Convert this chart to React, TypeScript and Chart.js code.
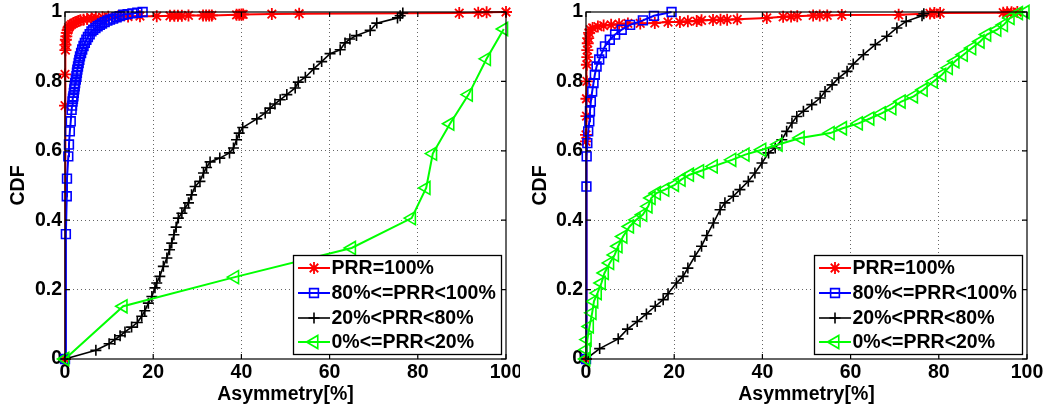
import React, { useEffect, useRef } from 'react';
import { Chart, registerables } from 'chart.js';
import { drawPoint } from 'chart.js/helpers';

Chart.register(...registerables);

// ---------- axis / text data ----------
const X_TICKS = [0, 20, 40, 60, 80, 100];
const Y_TICKS = [0, 0.2, 0.4, 0.6, 0.8, 1];
const X_TITLE = 'Asymmetry[%]';
const Y_TITLE = 'CDF';
const SERIES_LABELS = ['PRR=100%', '80%<=PRR<100%', '20%<PRR<80%', '0%<=PRR<20%'];

// ---------- left panel series ([asymmetry %, CDF]) ----------
const LEFT_PRR100: number[][] = [
  [0, 0], [0, 0.73], [0, 0.82], [0.1, 0.89], [0.1, 0.905], [0.2, 0.92], [0.3, 0.93], [0.4, 0.94],
  [0.6, 0.948], [0.8, 0.955], [1.1, 0.96], [1.5, 0.964], [2, 0.968], [2.5, 0.971], [3, 0.974],
  [3.5, 0.976], [4.2, 0.978], [5, 0.98], [6, 0.982], [7, 0.984], [8.5, 0.985], [9.8, 0.986],
  [12, 0.987], [14.3, 0.987], [17, 0.988], [20.8, 0.988], [23.8, 0.989], [24.8, 0.989],
  [25.6, 0.989], [26.5, 0.989], [28, 0.99], [31.3, 0.99], [32, 0.99], [32.7, 0.99], [33.3, 0.99],
  [38.9, 0.992], [39.5, 0.992], [40, 0.993], [40.4, 0.993], [46.9, 0.994], [53.1, 0.995],
  [89.4, 0.997], [93.7, 0.998], [95.6, 0.999], [100, 1],
];
const LEFT_PRR80_100: number[][] = [
  [0, 0], [0.2, 0.36], [0.4, 0.469], [0.45, 0.52], [0.75, 0.584], [0.9, 0.618], [1.1, 0.656],
  [1.3, 0.685], [1.5, 0.718], [1.6, 0.73], [1.7, 0.742], [1.8, 0.75], [1.9, 0.757], [2.0, 0.767],
  [2.1, 0.777], [2.2, 0.786], [2.3, 0.795], [2.45, 0.805], [2.6, 0.815], [2.7, 0.825], [2.8, 0.834],
  [2.95, 0.843], [3.1, 0.853], [3.25, 0.862], [3.4, 0.872], [3.65, 0.882], [3.9, 0.892],
  [4.2, 0.902], [4.5, 0.911], [4.85, 0.92], [5.2, 0.928], [5.6, 0.936], [6.0, 0.944], [6.4, 0.949],
  [6.9, 0.954], [7.4, 0.959], [7.9, 0.963], [8.4, 0.967], [9.0, 0.971], [9.6, 0.975], [10.2, 0.978],
  [10.9, 0.981], [11.7, 0.985], [12.4, 0.988], [13.2, 0.992], [14.2, 0.994], [15.3, 0.996],
  [16.4, 0.998], [17.6, 1.0],
];
const LEFT_PRR20_80: number[][] = [
  [0, 0], [7.0, 0.025], [10.0, 0.044], [11.3, 0.056], [12.5, 0.067], [13.6, 0.078], [15.1, 0.092],
  [16.4, 0.105], [17.4, 0.123], [18.1, 0.139], [18.9, 0.161], [19.7, 0.18], [20.4, 0.205],
  [20.8, 0.219], [21.5, 0.238], [22.3, 0.267], [23.1, 0.291], [23.7, 0.315], [24.2, 0.334],
  [24.7, 0.358], [25.2, 0.38], [25.7, 0.406], [26.5, 0.42], [27.2, 0.435], [28.0, 0.45],
  [28.7, 0.473], [29.5, 0.497], [30.6, 0.512], [31.4, 0.536], [32.1, 0.552], [32.9, 0.568],
  [35.1, 0.579], [37.3, 0.594], [38.2, 0.608], [38.9, 0.632], [39.5, 0.651], [40.3, 0.667],
  [43.5, 0.692], [45.4, 0.709], [46.5, 0.723], [47.6, 0.735], [48.8, 0.747], [50.3, 0.762],
  [52.2, 0.781], [52.9, 0.798], [54.5, 0.812], [56.4, 0.836], [58.2, 0.857], [60.1, 0.88],
  [62.4, 0.891], [63.5, 0.911], [64.6, 0.922], [66.1, 0.932], [69.2, 0.947], [70.7, 0.968],
  [75.4, 0.983], [76.0, 0.989], [76.6, 0.997],
];
const LEFT_PRR0_20: number[][] = [
  [0, 0], [13.2, 0.152], [38.5, 0.236], [65.0, 0.32], [78.6, 0.406], [81.9, 0.493], [83.4, 0.592],
  [87.3, 0.678], [91.5, 0.762], [95.6, 0.865], [99.5, 0.951],
];

// ---------- right panel series ----------
const RIGHT_PRR100: number[][] = [
  [0, 0], [0, 0.627], [0, 0.646], [0.1, 0.7], [0.1, 0.75], [0.2, 0.8], [0.2, 0.848], [0.3, 0.87],
  [0.3, 0.89], [0.4, 0.91], [0.5, 0.925], [0.7, 0.94], [1.0, 0.949], [1.5, 0.954], [2.7, 0.958],
  [4, 0.961], [5.7, 0.963], [7.5, 0.965], [9.5, 0.967], [12.3, 0.967], [15.6, 0.968], [18.6, 0.971],
  [21.3, 0.971], [23.1, 0.973], [25.1, 0.974], [26.2, 0.976], [28.8, 0.977], [30.5, 0.978],
  [32, 0.978], [34.3, 0.979], [41, 0.983], [44.7, 0.986], [46.5, 0.987], [47.9, 0.988],
  [51.5, 0.99], [53, 0.99], [54.7, 0.99], [58, 0.991], [70.9, 0.992], [78, 0.996], [79, 0.997],
  [80.3, 0.997], [94.6, 0.998], [95.5, 0.999], [96.5, 0.999], [97.8, 1.0],
];
const RIGHT_PRR80_100: number[][] = [
  [0, 0], [0.1, 0.497], [0.15, 0.584], [0.3, 0.622], [0.5, 0.656], [0.75, 0.685], [0.9, 0.714],
  [1.1, 0.742], [1.4, 0.771], [1.7, 0.795], [2.0, 0.819], [2.4, 0.843], [3.0, 0.863], [3.6, 0.882],
  [4.3, 0.901], [5.4, 0.92], [6.6, 0.935], [8.1, 0.949], [10.0, 0.963], [12.9, 0.976],
  [15.4, 0.989], [19.4, 1.0],
];
const RIGHT_PRR20_80: number[][] = [
  [0, 0], [3.1, 0.03], [7.3, 0.058], [9.4, 0.086], [11.6, 0.108], [13.7, 0.13], [15.7, 0.152],
  [17.5, 0.171], [18.6, 0.188], [20.5, 0.219], [22.0, 0.238], [23.1, 0.262], [24.7, 0.296],
  [26.2, 0.325], [27.4, 0.356], [28.9, 0.392], [30.4, 0.43], [31.5, 0.45], [33.4, 0.469],
  [34.9, 0.488], [36.8, 0.512], [38.3, 0.536], [39.9, 0.565], [41.4, 0.594], [42.9, 0.608],
  [44.4, 0.632], [45.5, 0.656], [46.7, 0.68], [47.8, 0.699], [49.3, 0.714], [51.2, 0.733],
  [53.1, 0.752], [54.2, 0.771], [55.8, 0.79], [57.3, 0.81], [59.2, 0.829], [60.6, 0.85],
  [62.9, 0.877], [65.6, 0.906], [68.2, 0.93], [70.5, 0.954], [72.6, 0.973], [76.2, 0.989],
  [76.6, 0.995],
];
const RIGHT_PRR0_20: number[][] = [
  [0, 0], [0.1, 0.027], [0.3, 0.056], [0.8, 0.094], [1.4, 0.133], [1.8, 0.166], [2.6, 0.19],
  [3.5, 0.219], [4.2, 0.248], [5.4, 0.277], [6.5, 0.3], [7.3, 0.325], [8.4, 0.353], [9.9, 0.382],
  [11.4, 0.401], [12.9, 0.416], [14.1, 0.44], [14.8, 0.464], [16.0, 0.478], [17.9, 0.488],
  [20.1, 0.502], [21.6, 0.517], [23.5, 0.531], [25.8, 0.541], [28.9, 0.555], [33.1, 0.574],
  [36.1, 0.589], [39.9, 0.603], [43.6, 0.618], [48.6, 0.637], [55.4, 0.651], [58.2, 0.665],
  [61.8, 0.679], [64.4, 0.693], [67.0, 0.708], [69.4, 0.723], [71.5, 0.742], [74.3, 0.757],
  [76.5, 0.776], [78.8, 0.8], [80.7, 0.819], [82.2, 0.839], [83.7, 0.858], [85.6, 0.877],
  [87.5, 0.896], [89.4, 0.915], [90.9, 0.935], [93.2, 0.949], [94.7, 0.963], [96.2, 0.983],
  [98.1, 0.997], [99.6, 1.0],
];

// ---------- styling ----------
const FONT_FAMILY = '"Liberation Sans", Arial, Helvetica, sans-serif';
const FONT = { family: FONT_FAMILY, size: 19.5, weight: 'bold' as const };
const STYLES = [
  { color: '#ff0000', pointStyle: 'star', radius: 6, rotation: 0, lineWidth: 2, pointBorderWidth: 1.8 },
  { color: '#0000ff', pointStyle: 'rect', radius: 6.2, rotation: 0, lineWidth: 2, pointBorderWidth: 1.6 },
  { color: '#000000', pointStyle: 'cross', radius: 5.5, rotation: 0, lineWidth: 1.6, pointBorderWidth: 1.6 },
  { color: '#00ff00', pointStyle: 'triangle', radius: 7.5, rotation: -90, lineWidth: 2, pointBorderWidth: 1.6 },
];

const framePlugin = {
  id: 'matlabFrame',
  afterDatasetsDraw(chart: any) {
    const { ctx, chartArea } = chart;
    const { left, right, top, bottom } = chartArea;
    const xs = chart.scales.x;
    const ys = chart.scales.y;
    ctx.save();
    ctx.strokeStyle = '#000';
    ctx.lineWidth = 1.2;
    ctx.setLineDash([]);
    ctx.strokeRect(left, top, right - left, bottom - top);
    const tl = 5;
    ctx.beginPath();
    X_TICKS.forEach((v) => {
      const px = xs.getPixelForValue(v);
      ctx.moveTo(px, bottom); ctx.lineTo(px, bottom - tl);
      ctx.moveTo(px, top); ctx.lineTo(px, top + tl);
    });
    Y_TICKS.forEach((v) => {
      const py = ys.getPixelForValue(v);
      ctx.moveTo(left, py); ctx.lineTo(left + tl, py);
      ctx.moveTo(right, py); ctx.lineTo(right - tl, py);
    });
    ctx.stroke();

    // legend (Matlab style: line through marker)
    const bx = right - 213;
    const by = bottom - 104;
    const bw = 208;
    const bh = 99;
    ctx.fillStyle = '#fff';
    ctx.fillRect(bx, by, bw, bh);
    ctx.lineWidth = 1.3;
    ctx.strokeStyle = '#000';
    ctx.strokeRect(bx + 0.5, by + 0.5, bw, bh);
    const rowOffsets = [91, 66, 41, 17];
    SERIES_LABELS.forEach((label, i) => {
      const st = STYLES[i];
      const y = bottom - rowOffsets[i];
      ctx.strokeStyle = st.color;
      ctx.lineWidth = st.lineWidth;
      ctx.beginPath();
      ctx.moveTo(bx + 5, y);
      ctx.lineTo(bx + 37, y);
      ctx.stroke();
      ctx.fillStyle = 'rgba(0,0,0,0)';
      ctx.lineWidth = st.pointBorderWidth;
      drawPoint(ctx, { pointStyle: st.pointStyle, rotation: st.rotation, radius: st.radius, borderWidth: st.pointBorderWidth } as any, bx + 21, y);
      ctx.fillStyle = '#000';
      ctx.font = `bold ${FONT.size}px ${FONT_FAMILY}`;
      ctx.textBaseline = 'middle';
      ctx.textAlign = 'left';
      ctx.fillText(label, bx + 38.5, y + 1);
    });
    ctx.restore();
  },
};

function Panel(props: { series: number[][][]; yAxisWidth: number; padRight: number; titlePad: number; width: number; left: number }) {
  const ref = useRef<HTMLCanvasElement | null>(null);
  useEffect(() => {
    if (!ref.current) return;
    const datasets = props.series.map((pts, i) => {
      const st = STYLES[i];
      return {
        label: SERIES_LABELS[i],
        data: pts.map(([x, y]) => ({ x, y })),
        borderColor: st.color,
        backgroundColor: 'rgba(0,0,0,0)',
        borderWidth: st.lineWidth,
        pointStyle: st.pointStyle,
        pointRadius: st.radius,
        pointRotation: st.rotation,
        pointBorderColor: st.color,
        pointBackgroundColor: 'rgba(0,0,0,0)',
        pointBorderWidth: st.pointBorderWidth,
        tension: 0,
        fill: false,
        clip: false,
        order: 4 - i,
      };
    });
    const gridColor = (ctx: any) => {
      const v = ctx.tick ? ctx.tick.value : null;
      return v === 0 || v === 1 || v === 100 ? 'rgba(0,0,0,0)' : '#666';
    };
    const chart = new Chart(ref.current, {
      type: 'line',
      data: { datasets } as any,
      plugins: [framePlugin],
      options: {
        animation: false,
        responsive: false,
        layout: { padding: { top: 12, right: props.padRight, left: 0, bottom: 0 } },
        plugins: { legend: { display: false }, tooltip: { enabled: false } },
        scales: {
          x: {
            type: 'linear',
            min: 0,
            max: 100,
            afterBuildTicks: (s: any) => { s.ticks = X_TICKS.map((v) => ({ value: v })); },
            afterFit: (s: any) => { s.height = 51; s.paddingLeft = 0; s.paddingRight = 0; },
            ticks: { font: FONT, color: '#000', padding: 2, maxRotation: 0, autoSkip: false, callback: (v: any) => String(v) },
            grid: { color: gridColor, lineWidth: 1, drawTicks: false },
            border: { display: false, dash: [1, 3] },
            title: { display: true, text: X_TITLE, font: FONT, color: '#000', padding: { top: 0, bottom: 4 } },
          },
          y: {
            type: 'linear',
            min: 0,
            max: 1,
            afterBuildTicks: (s: any) => { s.ticks = Y_TICKS.map((v) => ({ value: v })); },
            afterFit: (s: any) => { s.width = props.yAxisWidth; s.paddingTop = 0; s.paddingBottom = 0; },
            ticks: { font: FONT, color: '#000', padding: 3, autoSkip: false, callback: (v: any) => String(Math.round(v * 10) / 10) },
            grid: { color: gridColor, lineWidth: 1, drawTicks: false },
            border: { display: false, dash: [1, 3] },
            title: { display: true, text: Y_TITLE, font: FONT, color: '#000', padding: { top: props.titlePad, bottom: 0 } },
          },
        },
      } as any,
    });
    return () => chart.destroy();
  }, []);
  return (
    <div style={{ position: 'absolute', left: props.left, top: 0, width: props.width, height: 410 }}>
      <canvas ref={ref} width={props.width} height={410} style={{ display: 'block' }} />
    </div>
  );
}

export default function App() {
  return (
    <div style={{ position: 'absolute', left: 0, top: 0, width: 1045, height: 410, background: '#fff' }}>
      <Panel left={0} width={520} yAxisWidth={65} padRight={14} titlePad={7}
        series={[LEFT_PRR100, LEFT_PRR80_100, LEFT_PRR20_80, LEFT_PRR0_20]} />
      <Panel left={520} width={525} yAxisWidth={66} padRight={18} titlePad={9}
        series={[RIGHT_PRR100, RIGHT_PRR80_100, RIGHT_PRR20_80, RIGHT_PRR0_20]} />
    </div>
  );
}
